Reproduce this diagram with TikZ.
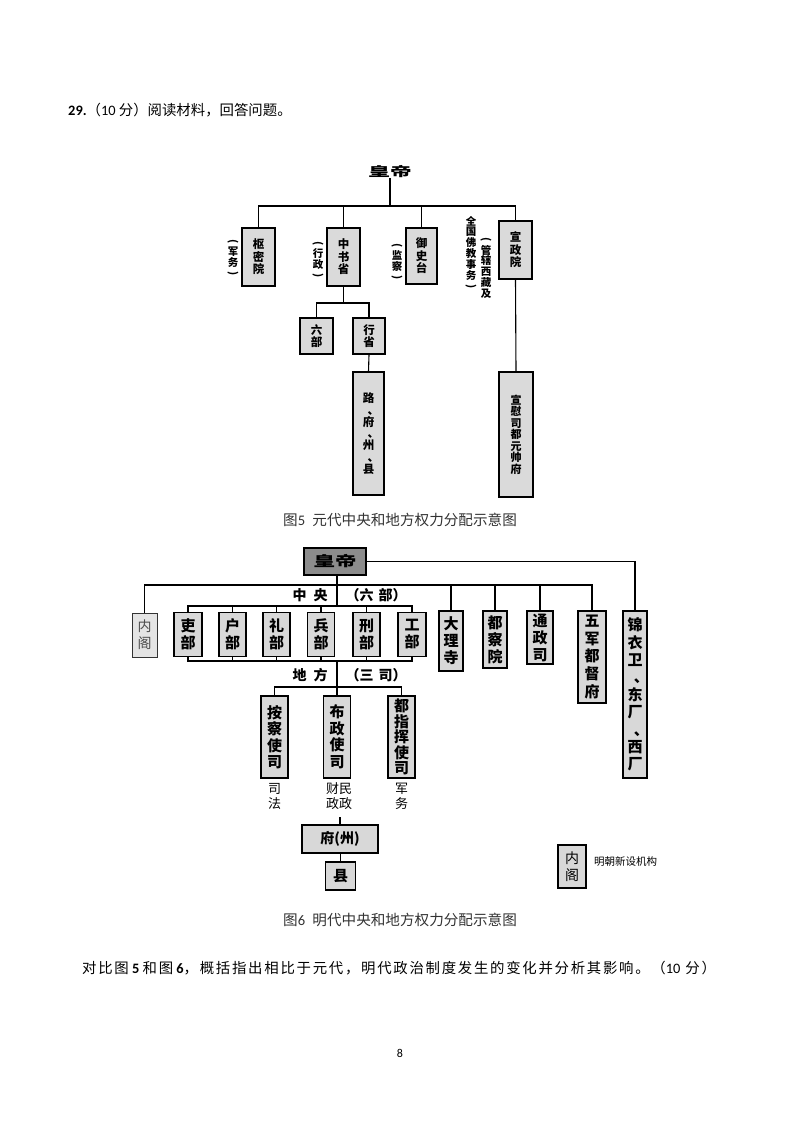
\documentclass[tikz,border=0pt]{standalone}
\usepackage{graphicx}
\usepackage{fontspec}
\setmainfont{Noto Sans CJK SC}
\newfontfamily\lat{Carlito}
\definecolor{yfill}{HTML}{DADADA}
\definecolor{mfill}{HTML}{D8D8D8}
\definecolor{hdfill}{HTML}{8C8C8C}
\definecolor{captxt}{HTML}{333333}
\newcommand\vpl{\rotatebox[origin=c]{-90}{(}}
\newcommand\vpr{\rotatebox[origin=c]{-90}{)}}
\newcommand\vdun{\makebox[1em][l]{\hspace{0.42em}、}}
\tikzset{
  yb/.style={draw=black, line width=1.3pt, fill=yfill, inner sep=0pt, align=center,
    font=\bfseries\fontsize{11.5}{12.5}\selectfont},
  mb/.style={draw=black, line width=1.3pt, fill=mfill, inner sep=0pt, align=center,
    font=\bfseries\fontsize{15}{17}\selectfont},
  lnk/.style={line width=1.1pt},
  ylab/.style={inner sep=0pt, align=center, font=\bfseries\fontsize{10.5}{10.8}\selectfont},
  mlab/.style={inner sep=0pt, font=\bfseries\fontsize{14}{16}\selectfont},
  captext/.style={inner sep=0pt, text=captxt, font=\fontsize{14.6}{16}\selectfont},
}
\begin{document}
\begin{tikzpicture}[x=1pt,y=-1pt]
\useasboundingbox (0,0) rectangle (800,1131);
\fill[white] (0,0) rectangle (800,1131);

% header
\node[anchor=west, inner sep=0pt, font=\fontsize{14.4}{16}\selectfont] (hdr) at (68,110)
  {{\lat\bfseries 29.}（{\lat 10} 分）阅读材料，回答问题。};

% ===== Yuan (Fig 5) =====
\node[inner sep=0pt, font=\bfseries\fontsize{16}{16}\selectfont] (yhd) at (390,172)
  {\scalebox{1.35}[0.8]{皇帝}};
\coordinate (yhub) at (390,206);
\node[yb, minimum width=33, minimum height=58] (smy) at (258.5,257) {枢\\密\\院};
\node[yb, minimum width=33, minimum height=58] (zss) at (343.5,257) {中\\书\\省};
\node[yb, minimum width=31, minimum height=56] (yst) at (421.5,256) {御\\史\\台};
\node[yb, minimum width=33, minimum height=58] (xzy) at (515.5,250) {宣\\政\\院};
\node[yb, minimum width=33, minimum height=36] (lbu) at (316.5,336) {六\\部};
\node[yb, minimum width=32, minimum height=36] (xsh) at (369,336) {行\\省};
\node[yb, minimum width=31, minimum height=123, font=\bfseries\fontsize{11.5}{11.7}\selectfont] (lfzx) at (368.5,433.5) {路\\\vdun\\府\\\vdun\\州\\\vdun\\县};
\node[yb, minimum width=34, minimum height=125, font=\bfseries\fontsize{11}{11.5}\selectfont] (xws) at (516,434.5) {宣\\慰\\司\\都\\元\\帅\\府};
\coordinate (zhub) at (343.5,303);

\node[ylab] (l1) at (233,258) {\vpl\\军\\务\\\vpr};
\node[ylab] (l2) at (318,260) {\vpl\\行\\政\\\vpr};
\node[ylab] (l3) at (397,262) {\vpl\\监\\察\\\vpr};
\node[ylab] (l4) at (471,253) {全\\国\\佛\\教\\事\\务\\\vpr};
\node[ylab] (l5) at (486,268) {\vpl\\管\\辖\\西\\藏\\及};

\draw[lnk] (yhd.south) -- (yhub);
\draw[lnk] (smy.north) |- (yhub) -| (xzy.north);
\draw[lnk] (zss.north) -- (zss.north |- yhub);
\draw[lnk] (yst.north) -- (yst.north |- yhub);
\draw[lnk] (zss.south) -- (zhub);
\draw[lnk] (lbu.north) |- (zhub) -| (xsh.north);
\draw[lnk] (xsh.south) -- (lfzx.north);
\draw[lnk] (xzy.south) -- (xws.north);

\node[captext] (cap5) at (400,520) {图{\lat 5}\hspace{0.5em}元代中央和地方权力分配示意图};

% ===== Ming (Fig 6) =====
\node[draw=black, line width=1.3pt, fill=hdfill, minimum width=62, minimum height=27, inner sep=0pt,
  font=\bfseries\fontsize{16.5}{16.5}\selectfont] (mhd) at (335,561.5) {\scalebox{1.3}[0.85]{皇帝}};
\coordinate (ctr) at (337,575);
\coordinate (mspine) at (337,585);
\coordinate (sixtop) at (337,606);
\coordinate (sixbot) at (337,661);
\coordinate (sanbar) at (337,687);

\node[draw=black!80, line width=1pt, fill=mfill!70, minimum width=25, minimum height=44, inner sep=0pt,
  align=center, text=black!70, font=\fontsize{14}{17}\selectfont] (nge) at (144.5,635) {内\\阁};
\node[mb, minimum width=28, minimum height=44] (libu) at (188,634.5) {吏\\部};
\node[mb, minimum width=27, minimum height=44] (hubu) at (232.5,634.5) {户\\部};
\node[mb, minimum width=27, minimum height=44] (lib2) at (276.5,634.5) {礼\\部};
\node[mb, minimum width=27, minimum height=44] (bbu) at (321,634.5) {兵\\部};
\node[mb, minimum width=27, minimum height=44] (xbu) at (366.5,634.5) {刑\\部};
\node[mb, minimum width=28, minimum height=44] (gbu) at (412,634.5) {工\\部};
\node[mb, minimum width=24, minimum height=60] (dls) at (451,641) {大\\理\\寺};
\node[mb, minimum width=24, minimum height=57] (dcy) at (495,639.5) {都\\察\\院};
\node[mb, minimum width=26, minimum height=53] (tzs) at (540,637.5) {通\\政\\司};
\node[mb, minimum width=28, minimum height=92, font=\bfseries\fontsize{15}{17.6}\selectfont] (wjd) at (592,657) {五\\军\\都\\督\\府};
\node[mb, minimum width=24, minimum height=167, font=\bfseries\fontsize{15}{17.4}\selectfont] (jyw) at (635,694.5) {锦\\衣\\卫\\\vdun\\东\\厂\\\vdun\\西\\厂};

\node[mlab] (zy) at (310,595) {中\hspace{7pt}央};
\node[mlab] (lbl) at (376,595) {（六\hspace{5pt}部）};
\node[mlab] (df) at (310,675) {地\hspace{7pt}方};
\node[mlab] (ssl) at (376,675) {（三\hspace{5pt}司）};

\node[mb, minimum width=27, minimum height=82, font=\bfseries\fontsize{15}{16.5}\selectfont] (acs) at (274.5,737) {按\\察\\使\\司};
\node[mb, minimum width=27, minimum height=82, font=\bfseries\fontsize{15}{16.5}\selectfont] (bzs) at (337,737) {布\\政\\使\\司};
\node[mb, minimum width=27, minimum height=82, font=\bfseries\fontsize{15}{15.6}\selectfont] (dzh) at (401.5,737) {都\\指\\挥\\使\\司};

\node[inner sep=0pt, align=center, font=\fontsize{13}{15}\selectfont] (sf) at (274.5,796) {司\\法};
\node[inner sep=0pt, align=center, font=\fontsize{13}{15}\selectfont] (cm) at (339,796) {财民\\政政};
\node[inner sep=0pt, align=center, font=\fontsize{13}{15}\selectfont] (jw) at (401.5,796) {军\\务};
\coordinate (lbend) at (340,817);

\node[mb, minimum width=76, minimum height=28, font=\bfseries\fontsize{14}{16}\selectfont] (fz) at (340,839) {府(州)};
\node[mb, minimum width=30, minimum height=28] (xian) at (340.5,876) {县};

\node[draw=black, line width=1.3pt, fill=mfill, minimum width=28, minimum height=43, inner sep=0pt,
  align=center, font=\fontsize{14}{17}\selectfont] (leg) at (572,866.5) {内\\阁};
\node[anchor=west, inner sep=0pt, font=\fontsize{10.5}{12}\selectfont] (legt) at (594,862) {明朝新设机构};

% Ming connectors
\draw[lnk] (mhd.east) -| (jyw.north);
\draw[lnk] (ctr) -- (sixtop);
\draw[lnk] (nge.north) |- (wjd.north |- mspine) -- (wjd.north);
\draw[lnk] (dls.north) -- (dls.north |- mspine);
\draw[lnk] (dcy.north) -- (dcy.north |- mspine);
\draw[lnk] (tzs.north) -- (tzs.north |- mspine);
\draw[lnk] (libu.north) |- (gbu.north |- sixtop) -- (gbu.north);
\draw[lnk] (hubu.north) -- (hubu.north |- sixtop);
\draw[lnk] (lib2.north) -- (lib2.north |- sixtop);
\draw[lnk] (bbu.north) -- (bbu.north |- sixtop);
\draw[lnk] (xbu.north) -- (xbu.north |- sixtop);
\draw[lnk] (libu.south) |- (gbu.south |- sixbot) -- (gbu.south);
\draw[lnk] (hubu.south) -- (hubu.south |- sixbot);
\draw[lnk] (lib2.south) -- (lib2.south |- sixbot);
\draw[lnk] (bbu.south) -- (bbu.south |- sixbot);
\draw[lnk] (xbu.south) -- (xbu.south |- sixbot);
\draw[lnk] (sixbot) -- (sanbar);
\draw[lnk] (acs.north) |- (dzh.north |- sanbar) -- (dzh.north);
\draw[lnk] (bzs.north) -- (bzs.north |- sanbar);
\draw[lnk] (lbend) -- (fz.north);
\draw[lnk] (fz.south -| xian.north) -- (xian.north);

\node[captext] (cap6) at (400,920) {图{\lat 6}\hspace{0.5em}明代中央和地方权力分配示意图};

% question
\node[anchor=west, inner sep=0pt, font=\fontsize{14.4}{16}\selectfont\addfontfeature{LetterSpace=12}] (q) at (82,968)
  {对比图{\lat\bfseries\ 5 }和图{\lat\bfseries\ 6}，概括指出相比于元代，明代政治制度发生的变化并分析其影响。（{\lat 10} 分）};

\node[inner sep=0pt, font=\lat\fontsize{12}{14}\selectfont] (pg) at (400,1053) {8};
\end{tikzpicture}
\end{document}
